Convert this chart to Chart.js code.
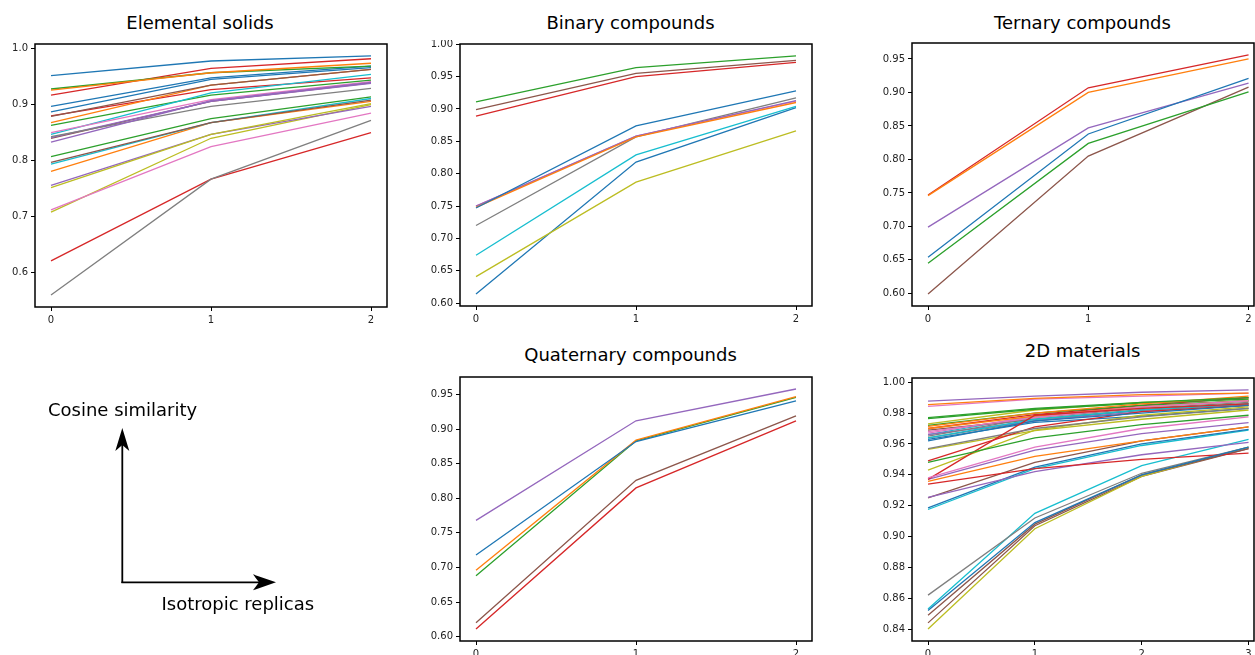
<!DOCTYPE html>
<html>
<head>
<meta charset="utf-8">
<script src="https://cdn.jsdelivr.net/npm/chart.js@4.4.1/dist/chart.umd.min.js"></script>
<style>
  html, body { margin: 0; padding: 0; background: #fff; width: 1255px; height: 655px; overflow: hidden; position: relative; font-family: "DejaVu Sans", sans-serif; }
  canvas { position: absolute; }
  .title { position: absolute; font-size: 18px; line-height: 18px; white-space: nowrap; color: #000; transform: translateX(-50%); }
  .label { position: absolute; font-size: 18px; line-height: 18px; white-space: nowrap; color: #000; }
</style>
</head>
<body>
<script>
// matplotlib tab10 colour cycle
const tab10 = ["#1f77b4", "#ff7f0e", "#2ca02c", "#d62728", "#9467bd", "#8c564b", "#e377c2", "#7f7f7f", "#bcbd22", "#17becf"];

const titles = ["Elemental solids", "Binary compounds", "Ternary compounds", "Quaternary compounds", "2D materials"];
const axisLabels = ["Cosine similarity", "Isotropic replicas"];

// cosine similarity per replica count, one row per structure
const elementalSolids = [
  [0.951, 0.977, 0.986], [0.925, 0.956, 0.973], [0.927, 0.956, 0.968], [0.916, 0.964, 0.981], [0.832, 0.906, 0.939],
  [0.878, 0.934, 0.962], [0.849, 0.908, 0.940], [0.842, 0.896, 0.928], [0.751, 0.846, 0.901], [0.846, 0.920, 0.953],
  [0.896, 0.947, 0.968], [0.867, 0.934, 0.962], [0.862, 0.916, 0.943], [0.879, 0.926, 0.947], [0.755, 0.846, 0.896],
  [0.796, 0.867, 0.907], [0.711, 0.824, 0.884], [0.559, 0.766, 0.871], [0.707, 0.839, 0.899], [0.793, 0.867, 0.910],
  [0.886, 0.944, 0.965], [0.780, 0.867, 0.905], [0.806, 0.874, 0.913], [0.620, 0.766, 0.849], [0.840, 0.905, 0.937],
  [0.839, 0.905, 0.938]
];

const binaryCompounds = [
  [0.747, 0.874, 0.928], [0.748, 0.857, 0.910], [0.911, 0.964, 0.982], [0.889, 0.950, 0.972], [0.750, 0.858, 0.913],
  [0.899, 0.955, 0.975], [0.750, 0.858, 0.912], [0.720, 0.857, 0.917], [0.641, 0.787, 0.866], [0.674, 0.829, 0.904],
  [0.614, 0.818, 0.902]
];

const ternaryCompounds = [
  [0.654, 0.838, 0.921], [0.746, 0.900, 0.950], [0.645, 0.824, 0.901], [0.747, 0.907, 0.956], [0.699, 0.847, 0.914],
  [0.599, 0.805, 0.908]
];

const quaternaryCompounds = [
  [0.718, 0.882, 0.941], [0.696, 0.884, 0.947], [0.688, 0.883, 0.946], [0.611, 0.815, 0.912], [0.768, 0.912, 0.958],
  [0.620, 0.826, 0.919]
];

const materials2D = [
  [0.852, 0.909, 0.940, 0.958], [0.9357, 0.952, 0.962, 0.971], [0.948, 0.964, 0.9725, 0.9786], [0.934, 0.944, 0.950, 0.954], [0.9253, 0.942, 0.953, 0.961],
  [0.849, 0.908, 0.940, 0.957], [0.938, 0.958, 0.970, 0.9775], [0.862, 0.912, 0.941, 0.958], [0.840, 0.905, 0.939, 0.958], [0.853, 0.915, 0.946, 0.963],
  [0.9186, 0.945, 0.960, 0.9695], [0.9855, 0.9895, 0.992, 0.993], [0.977, 0.983, 0.987, 0.990], [0.937, 0.9786, 0.983, 0.986], [0.937, 0.956, 0.9667, 0.9738],
  [0.844, 0.907, 0.939, 0.957], [0.9844, 0.989, 0.991, 0.993], [0.957, 0.970, 0.9775, 0.983], [0.943, 0.969, 0.9786, 0.984], [0.9175, 0.944, 0.959, 0.969],
  [0.962, 0.975, 0.980, 0.985], [0.9714, 0.980, 0.986, 0.991], [0.9764, 0.9825, 0.9865, 0.989], [0.949, 0.971, 0.981, 0.985], [0.9877, 0.991, 0.9935, 0.995],
  [0.925, 0.948, 0.962, 0.971], [0.968, 0.977, 0.984, 0.988], [0.965, 0.977, 0.983, 0.987], [0.9565, 0.9686, 0.976, 0.982], [0.964, 0.976, 0.982, 0.986],
  [0.963, 0.974, 0.978, 0.983], [0.970, 0.978, 0.984, 0.988], [0.972, 0.980, 0.985, 0.988], [0.970, 0.979, 0.985, 0.990], [0.966, 0.975, 0.981, 0.985],
  [0.969, 0.976, 0.982, 0.986], [0.967, 0.978, 0.985, 0.990], [0.964, 0.975, 0.982, 0.986], [0.973, 0.982, 0.987, 0.989], [0.966, 0.978, 0.984, 0.988]
];

const yTickSteps = [0.1, 0.05, 0.05, 0.05, 0.02];
const yTickDecimals = [1, 2, 2, 2, 2];

// axes boxes in page pixels: left, top, right, bottom (right-hand panels are cut by the page edge)
const panels = [
  { data: elementalSolids,     box: [35, 44, 387, 307],    xMax: null,  titleX: 200,    titleTop: 14 },
  { data: binaryCompounds,     box: [460, 44, 812, 306],   xMax: null,  titleX: 630.5,  titleTop: 14 },
  { data: ternaryCompounds,    box: [912, 43, 1254, 306],  xMax: 2.034, titleX: 1082.5, titleTop: 14 },
  { data: quaternaryCompounds, box: [460, 377, 812, 641],  xMax: null,  titleX: 630.5,  titleTop: 345.5 },
  { data: materials2D,         box: [912, 378, 1254, 641], xMax: 3.051, titleX: 1082.5, titleTop: 342 }
];

const YW = 48, XH = 24, PADT = 4, PADR = 6;

const framePlugin = {
  id: 'frame',
  afterDraw(chart) {
    const a = chart.chartArea, ctx = chart.ctx;
    ctx.save();
    ctx.strokeStyle = '#000';
    ctx.lineWidth = 1.5;
    ctx.strokeRect(a.left, a.top, a.right - a.left, a.bottom - a.top);
    ctx.restore();
  }
};

panels.forEach((p, k) => {
  const [l, t, r, b] = p.box;
  const canvas = document.createElement('canvas');
  canvas.width = (r - l) + YW + PADR;
  canvas.height = (b - t) + PADT + XH;
  canvas.style.left = (l - YW) + 'px';
  canvas.style.top = (t - PADT) + 'px';
  document.body.appendChild(canvas);

  const title = document.createElement('div');
  title.className = 'title';
  title.textContent = titles[k];
  title.style.left = p.titleX + 'px';
  title.style.top = p.titleTop + 'px';
  document.body.appendChild(title);

  // matplotlib-style 5% margins around the data
  const all = p.data.flat();
  const lo = Math.min(...all), hi = Math.max(...all);
  const n = p.data[0].length - 1;

  new Chart(canvas, {
    type: 'line',
    data: {
      datasets: p.data.map((row, i) => ({
        data: row.map((v, j) => ({ x: j, y: v })),
        borderColor: tab10[i % 10],
        borderWidth: 1.3,
        pointRadius: 0,
        fill: false,
        tension: 0
      }))
    },
    options: {
      responsive: false,
      animation: false,
      layout: { padding: { top: PADT, right: PADR, left: 0, bottom: 0 }, autoPadding: false },
      plugins: { legend: { display: false }, tooltip: { enabled: false } },
      scales: {
        x: {
          type: 'linear',
          min: -0.05 * n, max: p.xMax !== null ? p.xMax : n * 1.05,
          afterFit(s) { s.height = XH; s.paddingLeft = 0; s.paddingRight = 0; },
          border: { display: false },
          grid: { drawOnChartArea: false, tickLength: 4, color: '#000', tickColor: '#000' },
          ticks: { stepSize: 1, includeBounds: false, padding: 3, color: '#222', font: { family: 'DejaVu Sans', size: 10 }, maxRotation: 0, callback: v => v.toFixed(0) }
        },
        y: {
          min: lo - 0.05 * (hi - lo), max: hi + 0.05 * (hi - lo),
          afterFit(s) { s.width = YW; s.paddingTop = 0; s.paddingBottom = 0; },
          border: { display: false },
          grid: { drawOnChartArea: false, tickLength: 4, color: '#000', tickColor: '#000' },
          ticks: { stepSize: yTickSteps[k], includeBounds: false, padding: 3, color: '#222', font: { family: 'DejaVu Sans', size: 10 }, callback: v => v.toFixed(yTickDecimals[k]) }
        }
      }
    },
    plugins: [framePlugin]
  });
});

// axis direction sketch in the empty slot
const svgNS = 'http://www.w3.org/2000/svg';
const svg = document.createElementNS(svgNS, 'svg');
svg.setAttribute('width', 1255);
svg.setAttribute('height', 655);
svg.style.position = 'absolute';
svg.style.left = '0';
svg.style.top = '0';
svg.innerHTML =
  '<line x1="122.3" y1="583" x2="122.3" y2="440" stroke="#000" stroke-width="1.8"/>' +
  '<polygon points="122.3,428 115.3,451 122.3,445 129.3,451" fill="#000"/>' +
  '<line x1="121.4" y1="582.3" x2="262" y2="582.3" stroke="#000" stroke-width="1.8"/>' +
  '<polygon points="276,582.3 253,574.3 259,582.3 253,590.3" fill="#000"/>';
document.body.appendChild(svg);

[[axisLabels[0], 48, 401], [axisLabels[1], 161.5, 595]].forEach(([txt, x, y]) => {
  const d = document.createElement('div');
  d.className = 'label';
  d.textContent = txt;
  d.style.left = x + 'px';
  d.style.top = y + 'px';
  document.body.appendChild(d);
});
</script>
</body>
</html>
